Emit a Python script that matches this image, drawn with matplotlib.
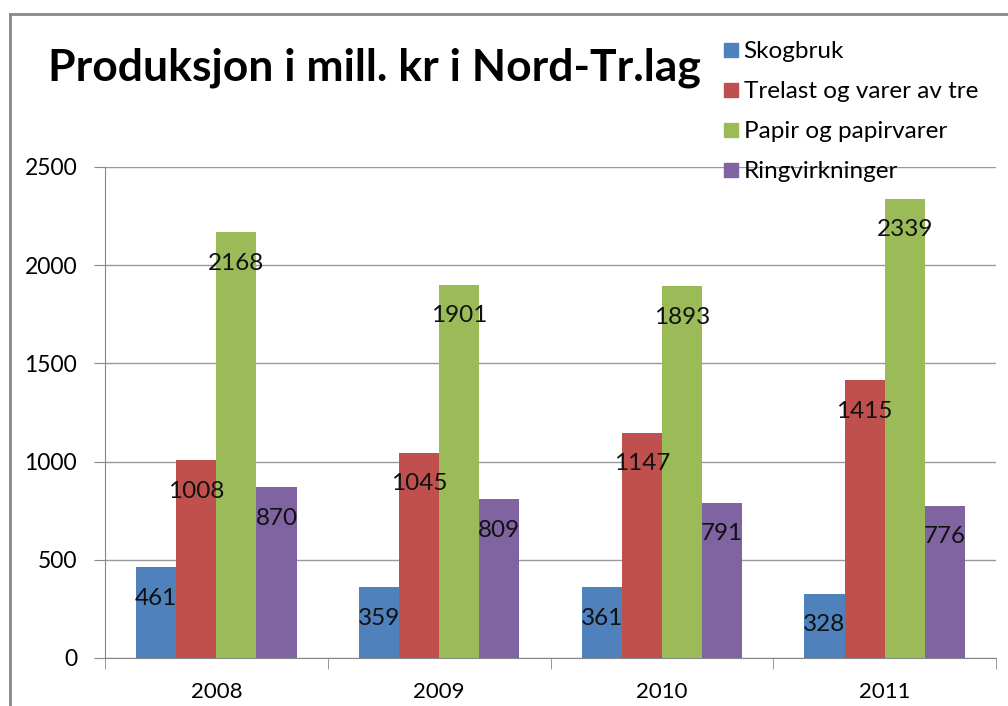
import numpy as np
import matplotlib
matplotlib.use("Agg")
import matplotlib.pyplot as plt
from matplotlib.lines import Line2D

plt.rcParams['font.family'] = ['Lato', 'DejaVu Sans']

years = ['2008', '2009', '2010', '2011']
series = ['Skogbruk', 'Trelast og varer av tre', 'Papir og papirvarer', 'Ringvirkninger']
skogbruk = [461, 359, 361, 328]
trelast = [1008, 1045, 1147, 1415]
papir = [2168, 1901, 1893, 2339]
ringvirkninger = [870, 809, 791, 776]
colors = ['#4F81BD', '#C0504D', '#9BBB59', '#8064A2']

fig = plt.figure(figsize=(10.08, 7.06), dpi=100)
ax = fig.add_axes([105/1008, 48/706, (996-105)/1008, (658-167)/706])

x = np.arange(len(years))
w = 0.18
values = [skogbruk, trelast, papir, ringvirkninger]
handles = []
for i, (vals, c, name) in enumerate(zip(values, colors, series)):
    pos = x + (i - 1.5) * w
    ax.bar(pos, vals, width=w, color=c, zorder=3)
    for px, v in zip(pos, vals):
        ax.annotate(str(v), xy=(px, v), xytext=(0, -31), textcoords='offset pixels',
                    ha='center', va='center', fontsize=17.5, color='#111111', zorder=4)
    handles.append(Line2D([], [], marker='s', linestyle='none', markersize=10,
                          markerfacecolor=c, markeredgecolor=c, label=name))

ax.set_xlim(-0.5, 3.5)
ax.set_ylim(0, 2500)
ax.set_yticks(np.arange(0, 2501, 500))
ax.set_xticks(x)
ax.set_xticklabels(years)
ax.set_xticks(np.arange(-0.5, 4.0, 1.0), minor=True)
ax.tick_params(axis='x', which='major', length=0, pad=17, labelsize=16)
ax.tick_params(axis='x', which='minor', length=8, color='#888888', direction='out')
ax.tick_params(axis='y', length=8, color='#888888', labelsize=16.5, pad=12)
ax.yaxis.grid(True, color='#999999', linewidth=1, zorder=0)
ax.set_axisbelow(True)
for s in ['top', 'right']:
    ax.spines[s].set_visible(False)
for s in ['left', 'bottom']:
    ax.spines[s].set_color('#888888')

fig.text(48/1008, 1 - 80/706, 'Produksjon i mill. kr i Nord-Tr.lag', fontsize=32,
         fontweight='bold', ha='left', va='baseline')

fig.legend(handles=handles, loc='upper left', bbox_to_anchor=(712/1008, 1 - 29/706),
           frameon=False, fontsize=17.5, handlelength=0.55, handletextpad=0.25,
           labelspacing=0.78, borderpad=0)

# outer frame (left and top edges)
fig.add_artist(Line2D([10/1008, 10/1008], [0, 1 - 14/706], color='#888888', lw=2))
fig.add_artist(Line2D([10/1008, 1], [1 - 14/706, 1 - 14/706], color='#888888', lw=2))

fig.savefig('out.png', dpi=100)
